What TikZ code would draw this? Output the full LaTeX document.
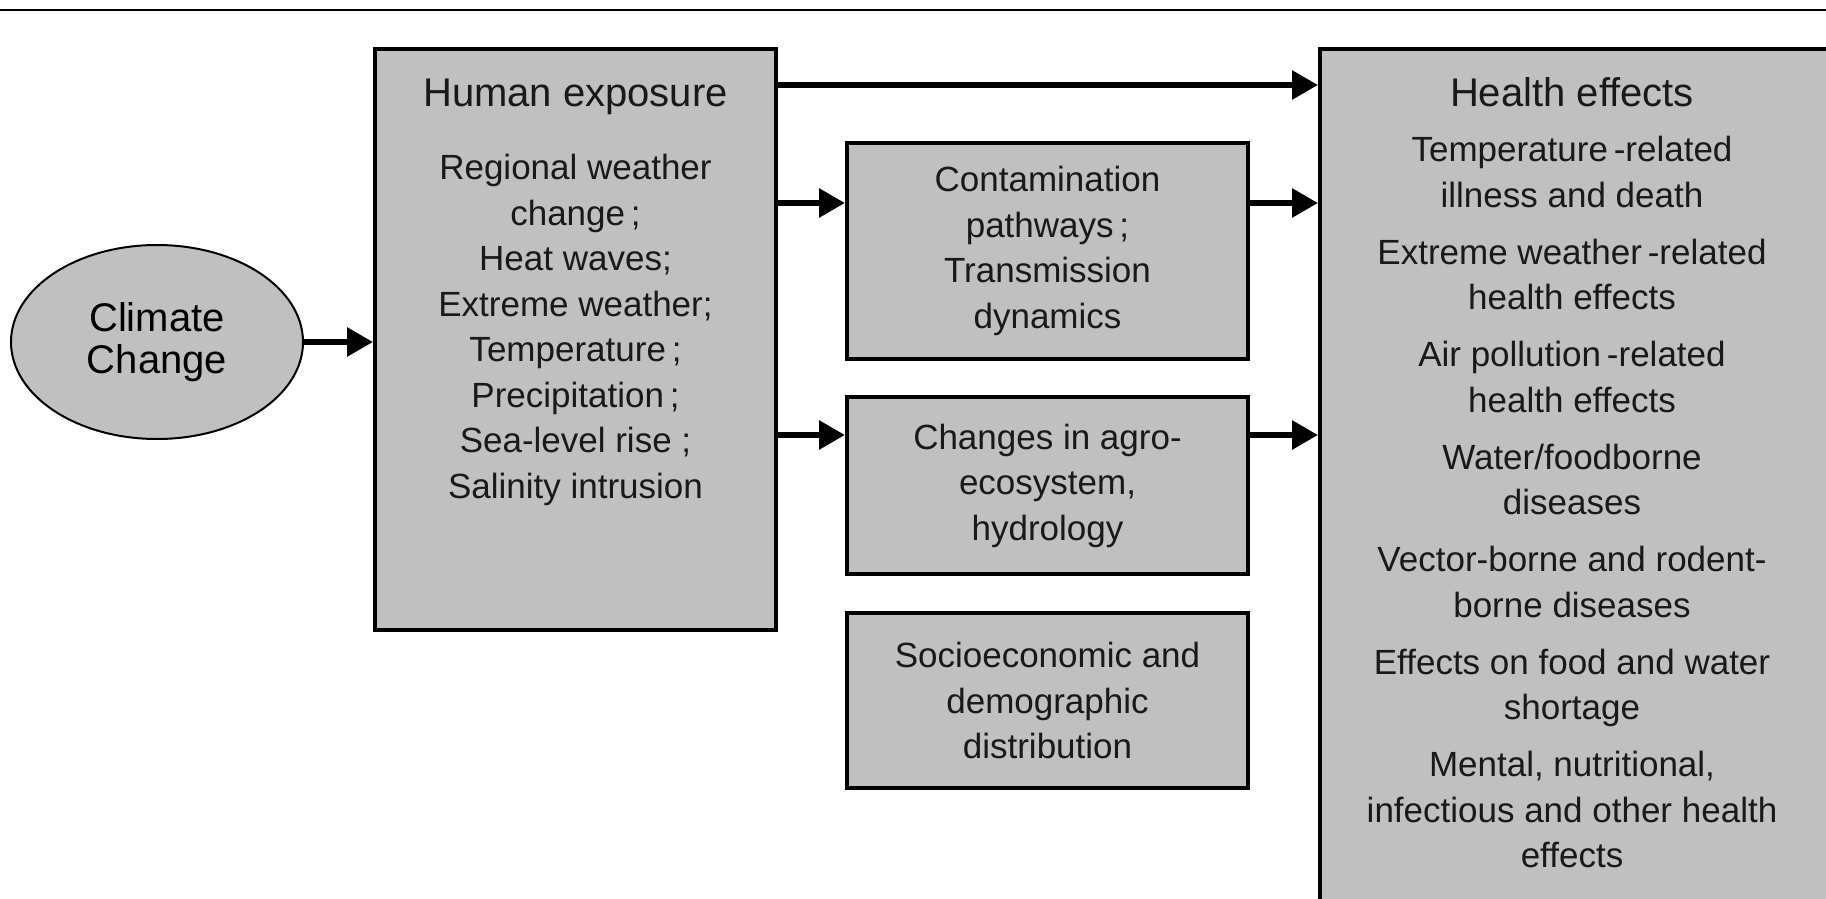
\documentclass[tikz,border=0pt]{standalone}
\usepackage{fontspec}
\setmainfont{Liberation Sans}
\usetikzlibrary{arrows.meta,shapes.geometric}
\definecolor{boxgray}{RGB}{192,192,192}
\begin{document}
\begin{tikzpicture}[x=0.5pt,y=-0.5pt,
  box/.style={draw=black, line width=2pt, fill=boxgray, rectangle, inner sep=0pt},
  body/.style={align=center, font=\fontsize{17.5}{22.75}\selectfont, inner sep=0pt, text=black!90},
  ttl/.style={font=\fontsize{20}{24}\selectfont, inner sep=0pt, text=black!90, anchor=base},
  conn/.style={line width=3pt, -{Triangle[length=13pt,width=14pt]}}]
\useasboundingbox (0,0) rectangle (1826,899);
\begin{scope}
\clip (0,0) rectangle (1826,899);
\draw[line width=1pt] (0,10) -- (1826,10);

% Climate change ellipse
\node[ellipse, draw=black, line width=1pt, fill=boxgray, minimum width=146pt, minimum height=97pt,
      align=center, font=\fontsize{20}{21}\selectfont, inner sep=0pt] (cc) at (157,342) {Climate\\Change};

% Human exposure
\node[box, minimum width=200.5pt, minimum height=290.5pt] (hum) at (575.5,339.5) {};
\node[ttl] (humt) at (575.5,107) {Human exposure};
\node[body] (humb) at (575.5,330) {Regional weather\\change\,;\\Heat waves;\\Extreme weather;\\Temperature\,;\\Precipitation\,;\\Sea-level rise ;\\Salinity intrusion};

% middle boxes
\node[box, minimum width=200.5pt, minimum height=108pt, body] (con) at (1047.5,251) {Contamination\\pathways\,;\\Transmission\\dynamics};
\node[box, minimum width=200.5pt, minimum height=88.5pt, body] (chg) at (1047.5,485.5) {Changes in agro-\\ecosystem,\\hydrology};
\node[box, minimum width=200.5pt, minimum height=87.5pt, body] (soc) at (1047.5,700.5) {Socioeconomic and\\demographic\\distribution};

% Health effects
\node[box, minimum width=255pt, minimum height=435.5pt] (hea) at (1575,484.5) {};
\node[ttl] (heat) at (1572,107) {Health effects};
\node[body] (heab) at (1572,502) {Temperature\,-related\\illness and death\\[5.75pt]Extreme weather\,-related\\health effects\\[5.75pt]Air pollution\,-related\\health effects\\[5.75pt]Water/foodborne\\diseases\\[5.75pt]Vector-borne and rodent-\\borne diseases\\[5.75pt]Effects on food and water\\shortage\\[5.75pt]Mental, nutritional,\\infectious and other health\\effects};

% connectors
\coordinate (cin) at ([yshift=-31pt]con.north west);
\coordinate (cout) at ([yshift=-31pt]con.north east);
\coordinate (gin) at ([yshift=-20pt]chg.north west);
\coordinate (gout) at ([yshift=-20pt]chg.north east);
\coordinate (hout) at ([yshift=-19pt]hum.north east);

\draw[conn] (cc.east) -- (cc.east -| hum.west);
\draw[conn] (hout) -- (hout -| hea.west);
\draw[conn] (cin -| hum.east) -- (cin);
\draw[conn] (gin -| hum.east) -- (gin);
\draw[conn] (cout) -- (cout -| hea.west);
\draw[conn] (gout) -- (gout -| hea.west);
\end{scope}
\end{tikzpicture}
\end{document}
